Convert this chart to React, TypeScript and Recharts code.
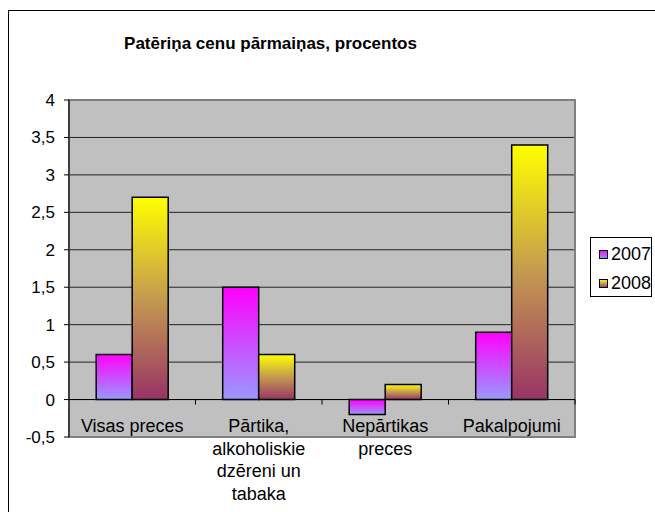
import React from "react"
import {
  BarChart,
  Bar,
  XAxis,
  YAxis,
  CartesianGrid,
  ReferenceLine,
  ReferenceArea,
  Legend,
} from "recharts"

// chart values
const categories = ["Visas preces", "Pārtika, alkoholiskie dzēreni un tabaka", "Nepārtikas preces", "Pakalpojumi"]
const categoryLines = [["Visas preces"], ["Pārtika,", "alkoholiskie", "dzēreni un", "tabaka"], ["Nepārtikas", "preces"], ["Pakalpojumi"]]
const values2007 = [0.6, 1.5, -0.2, 0.9]
const values2008 = [2.7, 0.6, 0.2, 3.4]
const yTicks = [-0.5, 0, 0.5, 1, 1.5, 2, 2.5, 3, 3.5, 4]

const data = categories.map((name, i) => ({
  name,
  lines: categoryLines[i],
  y2007: values2007[i],
  y2008: values2008[i],
}))

// layout
const W = 655
const H = 512
const PLOT_LEFT = 69
const PLOT_RIGHT = 575
const PLOT_TOP = 100
const PLOT_BOTTOM = 437
const Y_MIN = -0.5
const Y_MAX = 4
const FONT = "'Liberation Sans', Arial, sans-serif"

const band = (PLOT_RIGHT - PLOT_LEFT) / categories.length
const zeroY = PLOT_TOP + ((PLOT_BOTTOM - PLOT_TOP) * (Y_MAX - 0)) / (Y_MAX - Y_MIN)

const fmt = (v: number) => String(v).replace(".", ",")

const CategoryTick = (props: any) => {
  const { x, payload, index } = props
  const lines: string[] = data[index]?.lines ?? [payload.value]
  return (
    <g>
      <line x1={x + band / 2} x2={x + band / 2} y1={zeroY} y2={zeroY + 5} stroke="#000" />
      <text x={x} y={PLOT_BOTTOM - 5} textAnchor="middle" fontSize={18} fontFamily={FONT} fill="#000">
        {lines.map((l, i) => (
          <tspan key={i} x={x} dy={i === 0 ? 0 : 22.5}>
            {l}
          </tspan>
        ))}
      </text>
    </g>
  )
}

const LegendBox = () => {
  const items = [
    { label: "2007", grad: "g2007" },
    { label: "2008", grad: "g2008" },
  ]
  return (
    <div
      style={{
        position: "fixed",
        left: 590,
        top: 237,
        width: 62,
        height: 60,
        border: "1px solid #000",
        background: "#fff",
        fontFamily: FONT,
        fontSize: 18,
        boxSizing: "border-box",
      }}
    >
      {items.map((it, i) => (
        <div key={it.label} style={{ position: "absolute", left: 8, top: 6 + i * 29, display: "flex", alignItems: "center", lineHeight: "20px" }}>
          <svg width={9} height={9} style={{ marginRight: 3 }}>
            <rect x={0.5} y={0.5} width={8} height={8} fill={`url(#${it.grad})`} stroke="#000" />
          </svg>
          <span>{it.label}</span>
        </div>
      ))}
    </div>
  )
}

export default function App() {
  return (
    <div style={{ position: "fixed", left: 0, top: 0, width: W, height: H, background: "#fff", overflow: "hidden" }}>
      <div
        style={{
          position: "absolute",
          left: 8,
          top: 10,
          width: 700,
          height: 600,
          border: "1.5px solid #000",
        }}
      />
      <div
        style={{
          position: "absolute",
          left: 0,
          top: 34,
          width: 541,
          textAlign: "center",
          fontFamily: FONT,
          fontWeight: "bold",
          fontSize: 17,
          lineHeight: "20px",
        }}
      >
        Patēriņa cenu pārmaiņas, procentos
      </div>
      <div style={{ position: "absolute", left: 0, top: 0 }}>
        <BarChart
          width={W}
          height={H}
          data={data}
          margin={{ top: PLOT_TOP, right: W - PLOT_RIGHT, bottom: H - PLOT_BOTTOM - 20, left: PLOT_LEFT - 60 }}
          barCategoryGap="21.5%"
          barGap={0}
        >
          <defs>
            <linearGradient id="g2007" x1="0" y1="0" x2="0" y2="1">
              <stop offset="0%" stopColor="#FF00FF" />
              <stop offset="100%" stopColor="#9999FF" />
            </linearGradient>
            <linearGradient id="g2008" x1="0" y1="0" x2="0" y2="1">
              <stop offset="0%" stopColor="#FFFF00" />
              <stop offset="50%" stopColor="#C49A50" />
              <stop offset="100%" stopColor="#993366" />
            </linearGradient>
          </defs>
          <CartesianGrid vertical={false} stroke="#222" fill="#C0C0C0" fillOpacity={1} />
          <ReferenceArea y1={Y_MIN} y2={Y_MAX} fill="none" stroke="#808080" strokeWidth={2} ifOverflow="visible" />
          <XAxis
            dataKey="name"
            height={20}
            axisLine={false}
            tickLine={false}
            tickSize={0}
            tickMargin={0}
            interval={0}
            tick={<CategoryTick />}
          />
          <YAxis
            width={60}
            domain={[Y_MIN, Y_MAX]}
            ticks={yTicks}
            interval={0}
            tickFormatter={fmt}
            axisLine={{ stroke: "#000" }}
            tickLine={{ stroke: "#000" }}
            tickSize={5}
            tickMargin={9}
            tick={{ fontSize: 17, fontFamily: FONT, fill: "#000" }}
          />
          <ReferenceLine y={0} stroke="#000" />
          <Bar dataKey="y2007" name="2007" fill="url(#g2007)" stroke="#000" strokeWidth={1.5} isAnimationActive={false} />
          <Bar dataKey="y2008" name="2008" fill="url(#g2008)" stroke="#000" strokeWidth={1.5} isAnimationActive={false} />
          <Legend content={() => <LegendBox />} />
        </BarChart>
      </div>
    </div>
  )
}
